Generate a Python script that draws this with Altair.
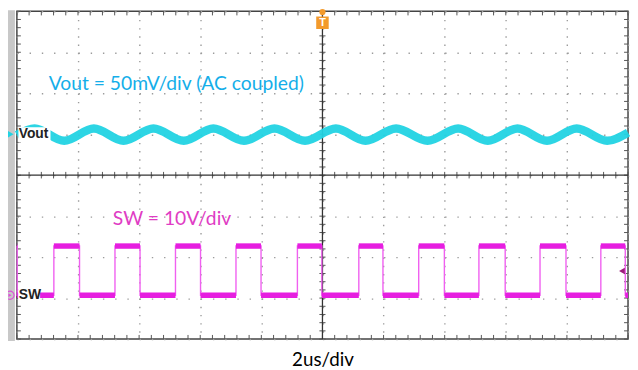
import altair as alt
import pandas as pd
import numpy as np

# ---- scope settings (2 us/div horizontally, 8 vertical divisions) ----
T_MIN, T_MAX = 0.0, 20.0
DIV_MIN, DIV_MAX = -4.0, 4.0
major_t = [0, 2, 4, 6, 8, 10, 12, 14, 16, 18, 20]
major_div = [-4, -3, -2, -1, 0, 1, 2, 3, 4]

# ---- Vout ripple (AC coupled, 50 mV/div), peaks and troughs ----
vout_t = [0.00, 0.58, 1.55, 2.52, 3.49, 4.47, 5.46, 6.43, 7.43, 8.43, 9.43,
          10.44, 11.41, 12.41, 13.44, 14.44, 15.41, 16.38, 17.35, 18.32, 19.32, 20.00]
vout_mv = [-1, 7, -8, 7, -8, 7, -8, 7, -8, 7, -8,
           7, -8, 7, -8, 7, -8, 7, -8, 7, -8, 2]
vout_mv_per_div = 50.0
vout_offset_div = 1.0

# ---- SW node (10 V/div), edge times ----
sw_rise_t = [1.21, 3.21, 5.19, 7.17, 9.18, 11.19, 13.15, 15.12, 17.12, 19.11]
sw_fall_t = [0.01, 2.05, 4.03, 6.01, 7.99, 9.98, 11.98, 13.99, 15.98, 17.97, 19.91]
sw_high_v = 12.0
sw_low_v = 0.0
sw_v_per_div = 10.0
sw_offset_div = -2.93

VOUT_COLOR = "#22d3e3"
SW_COLOR = "#e61ee0"
SW_EDGE = "#f060f0"

# ---- build tables ----
vout_df = pd.DataFrame({
    "t": vout_t,
    "y": [vout_offset_div + v / vout_mv_per_div for v in vout_mv],
    "i": range(len(vout_t)),
})

edges = sorted([(t, "fall") for t in sw_fall_t] + [(t, "rise") for t in sw_rise_t])
hi = sw_offset_div + sw_high_v / sw_v_per_div
lo = sw_offset_div + sw_low_v / sw_v_per_div
level = hi
pts = [(T_MIN, level)]
bounds = [T_MIN]
levels = [level]
for t, kind in edges:
    new = lo if kind == "fall" else hi
    pts.append((t, level))
    pts.append((t, new))
    level = new
    bounds.append(t)
    levels.append(level)
pts.append((T_MAX, level))
bounds.append(T_MAX)
sw_path = pd.DataFrame({"t": [p[0] for p in pts], "y": [p[1] for p in pts], "i": range(len(pts))})
sw_seg = pd.DataFrame({"t": bounds[:-1], "t2": bounds[1:], "y": levels})

minor_t = np.round(np.arange(T_MIN, T_MAX + 0.001, 0.4), 3)
minor_div = np.round(np.arange(DIV_MIN, DIV_MAX + 0.001, 0.2), 3)
tick_rows = []
for t in minor_t:
    tick_rows += [(t, t, -0.08, 0.08), (t, t, 4.0, 3.9), (t, t, -4.0, -3.9)]
for d in minor_div:
    tick_rows += [(9.9, 10.1, d, d), (0.0, 0.13, d, d), (20.0, 19.87, d, d)]
ticks_df = pd.DataFrame(tick_rows, columns=["t", "t2", "y", "y2"])

xscale = alt.Scale(domain=[T_MIN, T_MAX], nice=False, zero=False)
yscale = alt.Scale(domain=[DIV_MIN, DIV_MAX], nice=False, zero=False)
xaxis = alt.Axis(values=major_t, labels=False, ticks=False, domain=False, grid=True,
                 gridDash=[1.4, 6.9], gridColor="#9c9c9c", gridWidth=1.4,
                 title="2us/div", titleFont="Lato", titleFontSize=19,
                 titleFontWeight="normal", titleColor="black", titlePadding=12)
yaxis = alt.Axis(values=major_div, labels=False, ticks=False, domain=False, grid=True,
                 gridDash=[1.4, 10.98], gridColor="#9c9c9c", gridWidth=1.4, title=None)


def X(f="t"):
    return alt.X(f"{f}:Q", scale=xscale, axis=xaxis)


def Y(f="y"):
    return alt.Y(f"{f}:Q", scale=yscale, axis=yaxis)


ticks = alt.Chart(ticks_df).mark_rule(color="#555555", strokeWidth=1).encode(
    x=X(), x2="t2:Q", y=Y(), y2="y2:Q")

center_df = pd.DataFrame({"t": [10.0], "y": [0.0]})
vline = alt.Chart(center_df).mark_rule(color="#333333", strokeWidth=1.3).encode(x=X())
hline = alt.Chart(center_df).mark_rule(color="#333333", strokeWidth=1.3).encode(y=Y())

vout_line = alt.Chart(vout_df).mark_line(color=VOUT_COLOR, strokeWidth=8.5, interpolate="monotone",
                                         opacity=0.95).encode(x=X(), y=Y(), order="i:Q")
sw_line = alt.Chart(sw_path).mark_line(color=SW_EDGE, strokeWidth=1.4).encode(
    x=X(), y=Y(), order="i:Q")
sw_band = alt.Chart(sw_seg).mark_rule(color=SW_COLOR, strokeWidth=5.5).encode(
    x=X(), x2="t2:Q", y=Y())

# white boxes behind the channel labels
box_df = pd.DataFrame({"t": [0.05, 0.04], "t2": [1.10, 0.76],
                       "y": [0.80, -2.76], "y2": [1.17, -3.12]})
boxes = alt.Chart(box_df).mark_rect(color="white").encode(x=X(), x2="t2:Q", y=Y(), y2="y2:Q")

lab_df = pd.DataFrame({"t": [0.06, 0.06], "y": [vout_offset_div, sw_offset_div], "label": ["Vout", "SW"]})
labels = alt.Chart(lab_df).mark_text(align="left", baseline="middle", font="Liberation Sans",
                                     fontSize=14, fontWeight="bold", color="#222222").encode(
    x=X(), y=Y(), text="label:N")

ann_df = pd.DataFrame({"t": [1.04, 3.14], "y": [2.07, -1.205],
                       "label": ["Vout = 50mV/div (AC coupled)", "SW = 10V/div"],
                       "c": ["vout", "sw"]})
ann = alt.Chart(ann_df).mark_text(align="left", baseline="alphabetic", font="Lato",
                                  fontSize=19.5).encode(
    x=X(), y=Y(), text="label:N",
    color=alt.Color("c:N", scale=alt.Scale(domain=["vout", "sw"], range=["#14aee9", "#e03cc4"]),
                    legend=None))

# left gray strip
strip = alt.Chart(center_df).mark_rect(color="#c8c8c8", clip=False).encode(
    x=alt.value(-9), x2=alt.value(-2), y=alt.value(-1), y2=alt.value(334))

mk_df = pd.DataFrame({"y": [vout_offset_div], "t": [0.0]})
vmark = alt.Chart(mk_df).mark_point(shape="triangle-right", filled=True, color=VOUT_COLOR,
                                     size=70, clip=False, opacity=1).encode(
    x=alt.value(-7), y=Y())
sw_mk_df = pd.DataFrame({"y": [sw_offset_div], "t": [0.0]})
swmark = alt.Chart(sw_mk_df).mark_point(shape="circle", filled=False, color=SW_COLOR,
                                         size=70, strokeWidth=1.2, clip=False).encode(
    x=alt.value(-7), y=Y())
swmark2 = alt.Chart(sw_mk_df).mark_point(shape="triangle-right", filled=True, color=SW_COLOR,
                                          size=14, clip=False).encode(
    x=alt.value(-7), y=Y())

lvl_df = pd.DataFrame({"t": [19.8], "y": [-2.34]})
lvl = alt.Chart(lvl_df).mark_point(shape="triangle-left", filled=True, color="#9c1c7c",
                                    size=45, opacity=1).encode(x=X(), y=Y())

trig_df = pd.DataFrame({"t": [10.0], "y": [3.72], "label": ["T"]})
trig_box = alt.Chart(trig_df).mark_point(shape="square", filled=True, color="#f39a2b",
                                          size=160, opacity=1).encode(x=X(), y=Y())
trig_txt = alt.Chart(trig_df).mark_text(color="white", font="Liberation Sans", fontSize=11,
                                        fontWeight="bold", baseline="middle").encode(
    x=X(), y=Y(), text="label:N")
trig_top = alt.Chart(pd.DataFrame({"t": [10.0], "y": [3.98]})).mark_point(
    shape="circle", filled=True, color="#f39a2b", size=40, opacity=1, clip=False).encode(x=X(), y=Y())

chart = alt.layer(
    ticks, vline, hline, vout_line, sw_line, sw_band, boxes, labels, ann,
    strip, vmark, swmark, swmark2, lvl, trig_box, trig_txt, trig_top
).properties(
    width=619, height=332,
    autosize=alt.AutoSizeParams(type="none"),
    padding={"left": 9, "top": 1, "right": 2, "bottom": 28},
    background="white",
).configure_view(stroke="#444444", strokeWidth=1.5)

chart.save("out.html", embed_options={"renderer": "svg", "actions": False})
